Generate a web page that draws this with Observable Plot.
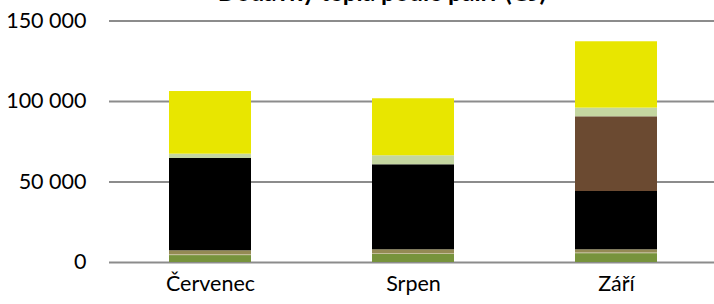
<!DOCTYPE html>
<html>
<head>
<meta charset="utf-8">
<script src="https://cdn.jsdelivr.net/npm/d3@7"></script>
<script src="https://cdn.jsdelivr.net/npm/@observablehq/plot@0.6"></script>
<style>
  html, body { margin: 0; padding: 0; background: #fff; overflow: hidden; }
  #wrap { position: relative; width: 714px; height: 304px; }
  #title { position: absolute; left: 0; width: 764px; top: -23px; text-align: center;
           font: bold 24.5px Lato, "Open Sans", sans-serif; color: #000; white-space: nowrap; }
</style>
</head>
<body>
<div id="wrap">
  <div id="title">Dodávky tepla podle paliv (GJ)</div>
  <div id="chart"></div>
</div>
<script>
// Data (bottom to top in the stack)
const months = ["Červenec", "Srpen", "Září"];
const fuels = ["Biomasa", "Bioplyn", "Ostatní plyny", "Hnědé uhlí", "Černé uhlí", "Topné oleje", "Zemní plyn"];
const biomasa      = [4300, 5000, 5500];
const bioplyn      = [500, 400, 400];
const ostatniPlyny = [2500, 2500, 2000];
const hnedeUhli    = [57300, 52800, 36200];
const cerneUhli    = [0, 0, 46400];
const topneOleje   = [2700, 5600, 5400];
const zemniPlyn    = [38900, 35400, 41200];
const yTicks = [0, 50000, 100000, 150000];
const yTickLabels = ["0", "50 000", "100 000", "150 000"];

const fuelColors = ["#77933c", "#c4bd97", "#948a54", "#000000", "#6b4a31", "#c4d6a0", "#e8e600"];

const series = [biomasa, bioplyn, ostatniPlyny, hnedeUhli, cerneUhli, topneOleje, zemniPlyn];
const rows = [];
fuels.forEach((f, i) => months.forEach((m, j) => rows.push({month: m, fuel: f, value: series[i][j]})));

const chart = Plot.plot({
  width: 714,
  height: 304,
  marginLeft: 109,
  marginRight: -4,
  marginTop: 20.5,
  marginBottom: 42,
  style: {fontFamily: "Lato, 'Open Sans', sans-serif", fontSize: "21.5px", color: "#000", background: "#fff"},
  x: {domain: months, paddingInner: 0.596, paddingOuter: 0.298, label: null, tickSize: 0, tickPadding: 13},
  y: {domain: [0, 150000], ticks: yTicks, tickFormat: d => yTickLabels[yTicks.indexOf(d)], label: null, tickSize: 0, tickPadding: 23},
  color: {domain: fuels, range: fuelColors},
  marks: [
    Plot.ruleY(yTicks, {stroke: "#8c8c8c", strokeWidth: 2}),
    Plot.barY(rows, {x: "month", y: "value", fill: "fuel", order: fuels, inset: 0})
  ]
});
document.getElementById("chart").appendChild(chart);
</script>
</body>
</html>
